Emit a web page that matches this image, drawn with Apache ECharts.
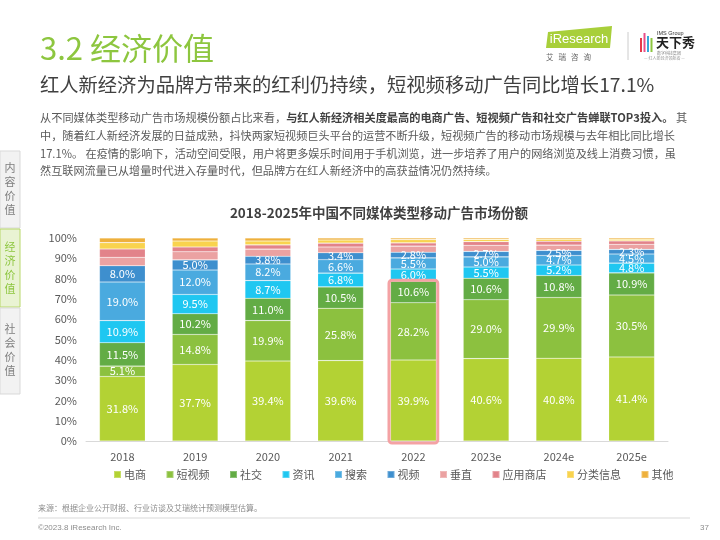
<!DOCTYPE html>
<html><head><meta charset="utf-8">
<script src="https://cdn.jsdelivr.net/npm/echarts@6/dist/echarts.min.js"></script>
<style>html,body{margin:0;padding:0;background:#fff}#c{width:720px;height:540px}</style>
</head><body><div id="c"></div>
<script>
const categories = ['2018','2019','2020','2021','2022','2023e','2024e','2025e'];
const seriesNames = ['电商','短视频','社交','资讯','搜索','视频','垂直','应用商店','分类信息','其他'];
const dianshang   = [31.8,37.7,39.4,39.6,39.9,40.6,40.8,41.4];
const duanshipin  = [5.1,14.8,19.9,25.8,28.2,29.0,29.9,30.5];
const shejiao     = [11.5,10.2,11.0,10.5,10.6,10.6,10.8,10.9];
const zixun       = [10.9,9.5,8.7,6.8,6.0,5.5,5.2,4.8];
const sousuo      = [19.0,12.0,8.2,6.6,5.5,5.0,4.7,4.5];
const shipin      = [8.0,5.0,3.8,3.4,2.8,2.7,2.5,2.3];
const chuizhi     = [4.2,4.0,3.5,2.9,3.0,3.0,2.6,2.5];
const yingyong    = [4.1,2.4,2.1,1.9,1.6,1.8,1.9,1.7];
const fenlei      = [3.1,2.9,1.9,1.5,1.6,1.1,1.0,0.8];
const qita        = [2.3,1.5,1.5,1.0,0.8,0.7,0.6,0.6];
const yTicks = ['0%','10%','20%','30%','40%','50%','60%','70%','80%','90%','100%'];
const highlightCategory = '2022';

const allValues = [dianshang,duanshipin,shejiao,zixun,sousuo,shipin,chuizhi,yingyong,fenlei,qita];
const colors = ['#b3d234','#8cc13f','#63ac45','#1fc7f1','#4aaadf','#3e8fce','#eba2a2','#e2838a','#f9d34e','#eeb03c'];
const labeled = [true,true,true,true,true,true,false,false,false,false];

const hIdx = categories.indexOf(highlightCategory);
const hTop = dianshang[hIdx] + duanshipin[hIdx] + shejiao[hIdx];

const chart = echarts.init(document.getElementById('c'), null, {renderer:'canvas'});
const series = seriesNames.map((n,i)=>({
  name:n, type:'bar', stack:'total', barWidth:'63%',
  data: allValues[i],
  itemStyle:{color:colors[i], borderColor:'rgba(255,255,255,0.25)', borderWidth:0.6},
  label:{show:labeled[i], position:'inside', color:'#fff', fontSize:11, fontFamily:'Noto Sans CJK SC',
    formatter:p=>p.value.toFixed(1)+'%'},
  emphasis:{disabled:true}
}));
series.push({
  type:'custom', name:'hl', silent:true, z:10,
  data:[[highlightCategory, hTop]],
  renderItem:(params, api)=>{
    const top = api.coord([api.value(0), api.value(1)]);
    const base = api.coord([api.value(0), 0]);
    const w = api.size([1,0])[0]*0.67;
    return {type:'rect', shape:{x:top[0]-w/2, y:top[1]-1, width:w, height:base[1]-top[1]+3, r:3},
      style:{fill:'none', stroke:'#f4a2a4', lineWidth:3}};
  }
});

const ff = 'Noto Sans CJK SC';
const graphic = [
  {type:'text', left:40, top:33, style:{text:'3.2 经济价值', fontSize:31, fill:'#8dc63f', fontFamily:ff}},
  {type:'text', left:40, top:75, style:{text:'红人新经济为品牌方带来的红利仍持续，短视频移动广告同比增长17.1%', fontSize:19.3, fill:'#404040', fontFamily:ff}},
  {type:'text', left:40, top:112, style:{rich:{n:{fontSize:11.2,fill:'#595959',fontFamily:ff},b:{fontSize:11.2,fill:'#404040',fontWeight:'bold',fontFamily:ff}},
    text:'{n|从不同媒体类型移动广告市场规模份额占比来看，}{b|与红人新经济相关度最高的电商广告、短视频广告和社交广告蝉联TOP3投入。}{n| 其}'}},
  {type:'text', left:40, top:130, style:{text:'中，随着红人新经济发展的日益成熟，抖快两家短视频巨头平台的运营不断升级，短视频广告的移动市场规模与去年相比同比增长', fontSize:11.15, fill:'#595959', fontFamily:ff}},
  {type:'text', left:40, top:148, style:{text:'17.1%。 在疫情的影响下，活动空间受限，用户将更多娱乐时间用于手机浏览，进一步培养了用户的网络浏览及线上消费习惯，虽', fontSize:11.15, fill:'#595959', fontFamily:ff}},
  {type:'text', left:40, top:165, style:{text:'然互联网流量已从增量时代进入存量时代，但品牌方在红人新经济中的高获益情况仍然持续。', fontSize:11.15, fill:'#595959', fontFamily:ff}},
  // sidebar
  {type:'rect', shape:{x:0,y:151,width:20,height:77}, style:{fill:'#f2f2f2', stroke:'#d9d9d9', lineWidth:1}},
  {type:'rect', shape:{x:0,y:229,width:20,height:78}, style:{fill:'#e9f3d3', stroke:'#b8d86b', lineWidth:1}},
  {type:'rect', shape:{x:0,y:308,width:20,height:86}, style:{fill:'#f2f2f2', stroke:'#d9d9d9', lineWidth:1}},
  {type:'text', x:10, y:189, style:{text:'内\n容\n价\n值', fontSize:11, lineHeight:14, fill:'#7f7f7f', align:'center', verticalAlign:'middle', fontFamily:ff}},
  {type:'text', x:10, y:268, style:{text:'经\n济\n价\n值', fontSize:11, lineHeight:14, fill:'#8dc63f', align:'center', verticalAlign:'middle', fontFamily:ff}},
  {type:'text', x:10, y:350, style:{text:'社\n会\n价\n值', fontSize:11, lineHeight:14, fill:'#7f7f7f', align:'center', verticalAlign:'middle', fontFamily:ff}},
  // logos
  {type:'polygon', shape:{points:[[548,32],[612,26],[610,48],[546,48]]}, style:{fill:'#a8cf3a'}},
  {type:'text', x:579, y:39, style:{text:'iResearch', fontSize:13, fill:'#fff', align:'center', verticalAlign:'middle', fontFamily:'Liberation Sans'}},
  {type:'text', x:546, y:53, style:{text:'艾   瑞   咨   询', fontSize:7.5, fill:'#666', fontFamily:ff}},
  {type:'line', shape:{x1:628,y1:32,x2:628,y2:60}, style:{stroke:'#cccccc', lineWidth:1}},
  {type:'rect', shape:{x:640,y:38,width:2,height:14}, style:{fill:'#e53b4a'}},
  {type:'rect', shape:{x:643.5,y:33,width:2,height:19}, style:{fill:'#e84e8a'}},
  {type:'rect', shape:{x:647,y:36,width:2,height:16}, style:{fill:'#36a8d8'}},
  {type:'rect', shape:{x:650.5,y:38,width:2,height:14}, style:{fill:'#8dc63f'}},
  {type:'text', x:657, y:30, style:{text:'IMS Group', fontSize:5.5, fill:'#333', fontFamily:'Liberation Sans'}},
  {type:'text', x:656, y:36, style:{text:'天下秀', fontSize:13, fill:'#222', fontWeight:'bold', fontFamily:ff}},
  {type:'text', x:657, y:51, style:{text:'数字科技集团', fontSize:4, fill:'#888', fontFamily:ff}},
  {type:'text', x:644, y:56, style:{text:'— 红人新经济领航者 —', fontSize:4, fill:'#999', fontFamily:ff}},
  // footer
  {type:'text', left:38, top:504, style:{text:'来源：根据企业公开财报、行业访谈及艾瑞统计预测模型估算。', fontSize:8, fill:'#8c8c8c', fontFamily:ff}},
  {type:'line', shape:{x1:38,y1:518,x2:690,y2:518}, style:{stroke:'#d9d9d9', lineWidth:1}},
  {type:'text', left:38, top:524, style:{text:'©2023.8 iResearch Inc.', fontSize:8, fill:'#8c8c8c', fontFamily:'Liberation Sans'}},
  {type:'text', left:700, top:524, style:{text:'37', fontSize:8, fill:'#8c8c8c', fontFamily:'Liberation Sans'}}
];

chart.setOption({
  animation:false,
  title:{text:'2018-2025年中国不同媒体类型移动广告市场份额', left:374, textAlign:'center', top:201,
    textStyle:{fontSize:13.5, fontWeight:'bold', color:'#404040', fontFamily:ff}},
  grid:{left:86, right:52, top:238, bottom:99, containLabel:false},
  legend:{data:seriesNames, bottom:55, left:108, itemWidth:7, itemHeight:7, itemGap:19.5, icon:'rect',
    textStyle:{fontSize:11, color:'#595959', fontFamily:ff, padding:[0,0,0,-2]}},
  xAxis:{type:'category', data:categories, axisTick:{show:false},
    axisLine:{lineStyle:{color:'#d9d9d9', width:1}},
    axisLabel:{fontSize:11, color:'#595959', margin:10, fontFamily:ff}},
  yAxis:{type:'value', min:0, max:100, interval:10, splitLine:{show:false},
    axisLine:{show:false}, axisTick:{show:false},
    axisLabel:{fontSize:11, color:'#595959', margin:9, fontFamily:ff, formatter:(v)=>yTicks[Math.round(v/10)]}},
  series:series,
  graphic:graphic
});
</script></body></html>
